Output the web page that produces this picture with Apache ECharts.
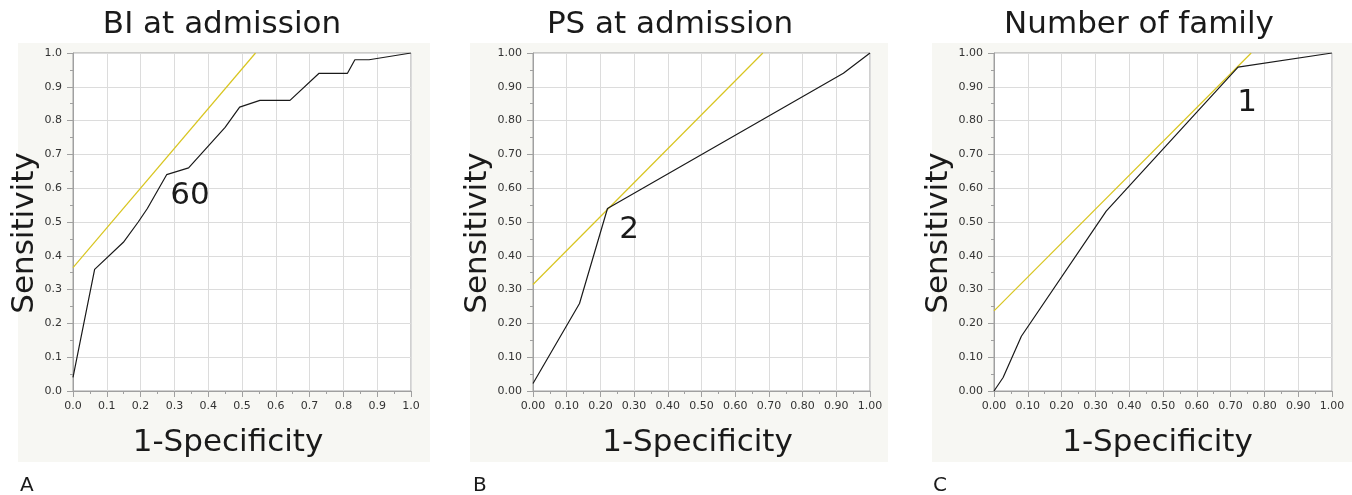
<!DOCTYPE html>
<html>
<head>
<meta charset="utf-8">
<script src="https://cdn.jsdelivr.net/npm/echarts@6/dist/echarts.min.js"></script>
<style>
  html, body { margin: 0; padding: 0; background: #fff; }
  #main { width: 1352px; height: 495px; }
</style>
</head>
<body>
<div id="main"></div>
<script>
// ROC曲线数据 [1-特异度, 敏感度]
var rocBI = [[0, 0.04], [0.064, 0.36], [0.149, 0.44], [0.193, 0.50], [0.22, 0.54], [0.277, 0.64],
  [0.342, 0.66], [0.45, 0.78], [0.493, 0.84], [0.553, 0.86], [0.642, 0.86], [0.728, 0.94],
  [0.812, 0.94], [0.834, 0.98], [0.876, 0.98], [1, 1]];
var rocPS = [[0, 0.022], [0.138, 0.259], [0.221, 0.54], [0.921, 0.94], [1, 1]];
var rocFamily = [[0, 0], [0.027, 0.04], [0.081, 0.162], [0.332, 0.532], [0.722, 0.958], [1, 1]];

// 切线（黄色）
var tangentBI = [[0, 0.365], [0.54, 1]];
var tangentPS = [[0, 0.315], [0.682, 1]];
var tangentFamily = [[0, 0.237], [0.761, 1]];

// 截断值标注
var cutBI = [[0.346, 0.577, '60']];
var cutPS = [[0.285, 0.477, '2']];
var cutFamily = [[0.749, 0.851, '1']];

var panelTitles = ['BI at admission', 'PS at admission', 'Number of family'];
var panelLetters = ['A', 'B', 'C'];
var yDecimals = [1, 2, 2];

var bigFont = 'DejaVu Sans';

var grids = [
  {left: 73, top: 53, width: 338, height: 338},
  {left: 533, top: 53, width: 337, height: 338},
  {left: 994, top: 53, width: 338, height: 338}
];
var panels = [
  {x: 18, w: 412, titleX: 222, letterX: 20, yGap: 26, xPad: 28},
  {x: 470, w: 418, titleX: 670, letterX: 473, yGap: 34, xPad: 8},
  {x: 932, w: 420, titleX: 1139, letterX: 933, yGap: 37, xPad: 11}
];

var chart = echarts.init(document.getElementById('main'));

function makeAxis(type, i) {
  var isY = type === 'y';
  return {
    type: 'value',
    gridIndex: i,
    min: 0,
    max: 1,
    interval: 0.1,
    name: isY ? 'Sensitivity' : '1-Specificity',
    nameLocation: 'middle',
    nameGap: isY ? panels[i].yGap : 36,
    nameTextStyle: {
      fontSize: 31,
      color: '#1a1a1a',
      fontFamily: bigFont,
      padding: isY ? [0, 22, 0, 0] : [0, panels[i].xPad, 0, 0]
    },
    axisLine: {show: true, lineStyle: {color: '#a0a0a0', width: 1}},
    axisTick: {show: true, length: 6, lineStyle: {color: '#a0a0a0'}},
    minorTick: {show: true, splitNumber: 2, length: 3, lineStyle: {color: '#a0a0a0'}},
    splitLine: {show: true, lineStyle: {color: '#dcdcdc', width: 1}},
    axisLabel: {
      margin: isY ? 11 : 10,
      fontSize: 11,
      color: '#333',
      fontFamily: 'DejaVu Sans',
      formatter: function (v) { return v.toFixed(yDecimals[i]); }
    }
  };
}

var rocs = [rocBI, rocPS, rocFamily];
var tangents = [tangentBI, tangentPS, tangentFamily];
var cuts = [cutBI, cutPS, cutFamily];

var series = [];
for (var i = 0; i < 3; i++) {
  series.push({
    type: 'line', xAxisIndex: i, yAxisIndex: i, data: tangents[i],
    symbol: 'none', silent: true, lineStyle: {color: '#d8c520', width: 1.2}, z: 3
  });
  series.push({
    type: 'line', xAxisIndex: i, yAxisIndex: i, data: rocs[i],
    symbol: 'none', silent: true, lineStyle: {color: '#1a1a1a', width: 1.2}, z: 4
  });
  series.push({
    type: 'scatter', xAxisIndex: i, yAxisIndex: i, symbolSize: 0, silent: true,
    itemStyle: {opacity: 1},
    data: cuts[i].map(function (d) { return {value: [d[0], d[1]], name: d[2]}; }),
    label: {show: true, position: 'inside', formatter: '{b}', fontSize: 31, color: '#1a1a1a', opacity: 1, fontFamily: bigFont},
    z: 5
  });
}

var titles = [];
for (var i = 0; i < 3; i++) {
  titles.push({
    text: panelTitles[i], left: panels[i].titleX, top: 9, textAlign: 'center', padding: 0,
    textStyle: {fontSize: 31, fontWeight: 'normal', color: '#1a1a1a', fontFamily: bigFont}
  });
  titles.push({
    text: panelLetters[i], left: panels[i].letterX, top: 476, padding: 0,
    textStyle: {fontSize: 20, fontWeight: 'normal', color: '#1a1a1a', fontFamily: bigFont}
  });
}

var option = {
  animation: false,
  title: titles,
  graphic: panels.map(function (p) {
    return {type: 'rect', shape: {x: p.x, y: 43, width: p.w, height: 419}, style: {fill: '#f7f7f3'}, z: -10, silent: true};
  }),
  grid: grids.map(function (g) {
    return Object.assign({show: true, backgroundColor: '#fff', borderColor: '#a0a0a0', borderWidth: 1}, g);
  }),
  xAxis: [0, 1, 2].map(function (i) { return makeAxis('x', i); }),
  yAxis: [0, 1, 2].map(function (i) { return makeAxis('y', i); }),
  series: series
};
chart.setOption(option);
</script>
</body>
</html>
